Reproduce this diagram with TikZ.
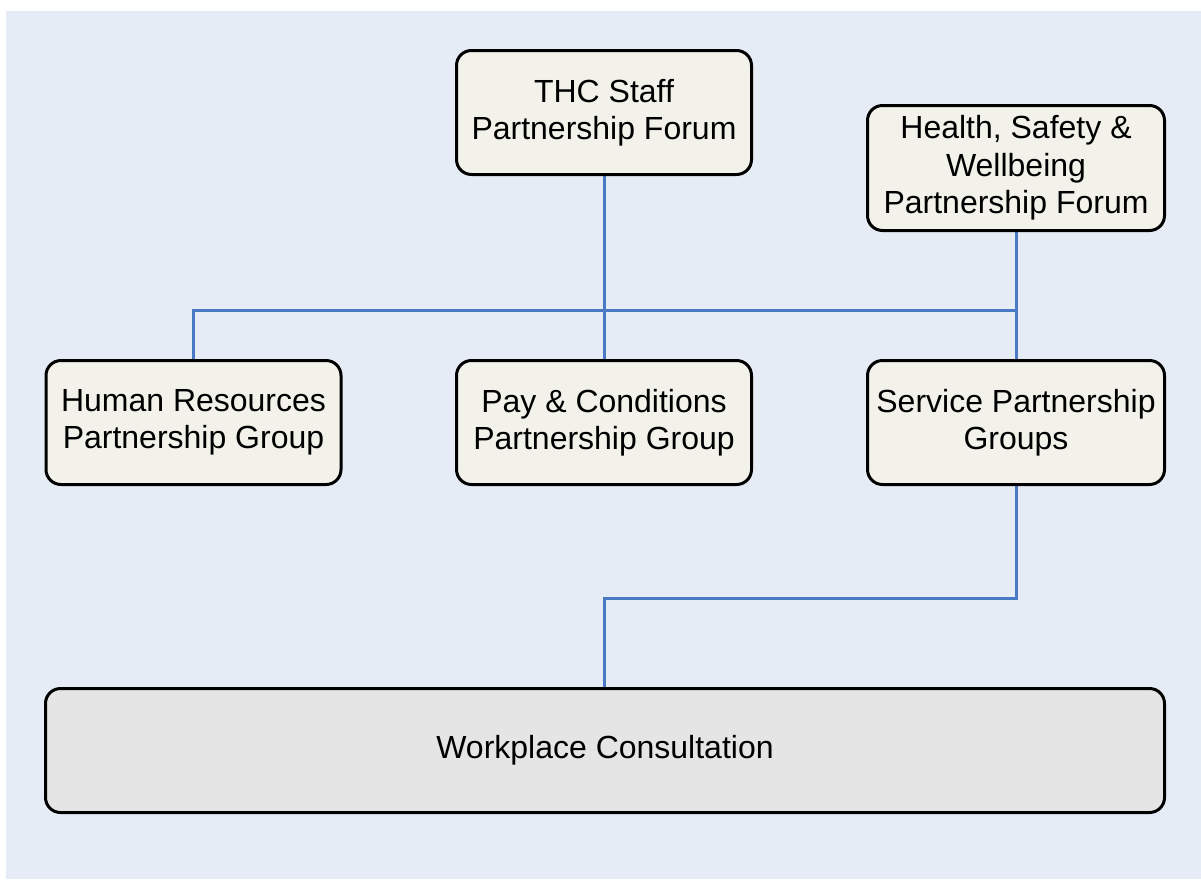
\documentclass[tikz,border=0pt]{standalone}
\usepackage{fontspec}
\setmainfont{Liberation Sans}
\usetikzlibrary{backgrounds}
\definecolor{bgblue}{HTML}{E6ECF6}
\definecolor{boxfill}{HTML}{F2F2EB}
\definecolor{wpfill}{HTML}{E5E5E5}
\definecolor{linkblue}{HTML}{4A79C6}
\tikzset{
  orgbox/.style={draw=black, line width=3pt, rounded corners=15pt, fill=boxfill,
    minimum width=295pt, minimum height=124pt, align=center, inner sep=0pt,
    font=\fontsize{32}{37.5}\selectfont},
  widebox/.style={orgbox, fill=wpfill, minimum width=1119pt},
  link/.style={draw=linkblue, line width=3pt}
}
\begin{document}
\begin{tikzpicture}[x=1pt,y=-1pt]
\useasboundingbox (0,0) rectangle (1201,879);
\node[orgbox] (thc) at (604,112.5) {THC Staff\\Partnership Forum};
\node[orgbox, minimum width=297pt, minimum height=125pt] (hsw) at (1016,168) {Health, Safety \&\\Wellbeing\\Partnership Forum};
\node[orgbox] (hr) at (193.5,422.5) {Human Resources\\Partnership Group};
\node[orgbox] (pay) at (604,422.5) {Pay \& Conditions\\Partnership Group};
\node[orgbox, minimum width=297pt] (svc) at (1016,422.5) {Service Partnership\\Groups};
\node[widebox] (wp) at (605,750.5) {Workplace Consultation};
\coordinate (jr) at (1016,310);
\coordinate (bend) at (604,598);
\begin{scope}[on background layer]
\fill[bgblue] (6,11) rectangle (1201,879);
\draw[link] (thc.south) -- (pay.north);
\draw[link] (hr.north) |- (jr);
\draw[link] (hsw.south) -- (svc.north);
\draw[link] (svc.south) |- (bend) -- (bend |- wp.north);
\end{scope}
\end{tikzpicture}
\end{document}
